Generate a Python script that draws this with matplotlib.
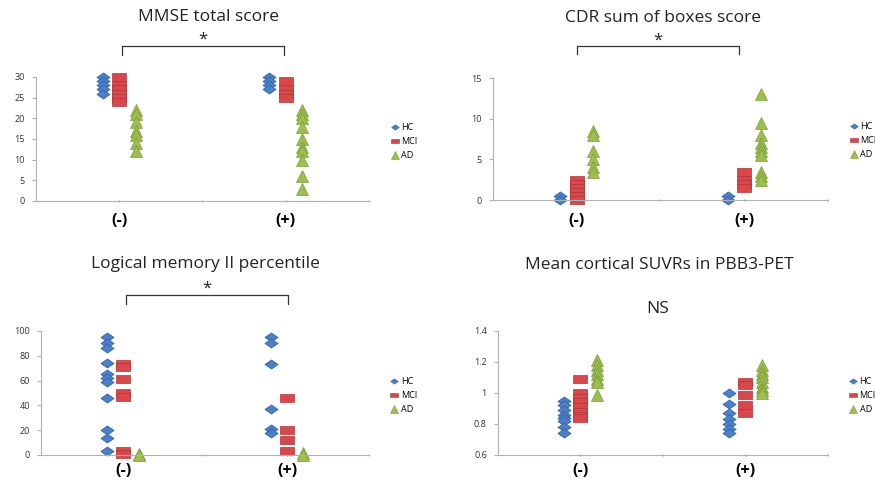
import matplotlib
matplotlib.use("Agg")
import matplotlib.pyplot as plt
from matplotlib.lines import Line2D
import matplotlib.transforms as mtransforms


plt.rcParams["font.family"] = ["Open Sans", "DejaVu Sans"]

GROUPS = ["HC", "MCI", "AD"]
CATEGORIES = ["(-)", "(+)"]

# MMSE total score
mmse_neg_hc = [30, 29, 28, 27, 26]
mmse_neg_mci = [30, 28, 27, 26, 25, 24]
mmse_neg_ad = [22, 21, 19, 17, 16, 14, 12]
mmse_pos_hc = [30, 29, 28, 27]
mmse_pos_mci = [29, 27, 26, 25]
mmse_pos_ad = [22, 21, 20, 18, 15, 13, 12, 10, 6, 3]

# CDR sum of boxes
cdr_neg_hc = [0.5, 0]
cdr_neg_mci = [2.5, 2, 1.5, 1, 0.5, 0]
cdr_neg_ad = [8.5, 8, 6, 5, 4, 3.5]
cdr_pos_hc = [0.5, 0]
cdr_pos_mci = [3.5, 2.5, 2, 1.5]
cdr_pos_ad = [13, 9.5, 8, 7, 6.5, 6, 5.5, 3.5, 3, 2.5]

# Logical memory II percentile
lm_neg_hc = [95, 90, 86, 74, 65, 62, 59, 46, 20, 14, 3]
lm_neg_mci = [73, 71, 61, 50, 47, 3, 1]
lm_neg_ad = [1, 0]
lm_pos_hc = [95, 90, 73, 37, 21, 18]
lm_pos_mci = [46, 20, 12, 3]
lm_pos_ad = [2, 0]

# Mean cortical SUVR
suvr_neg_hc = [0.95, 0.92, 0.89, 0.86, 0.84, 0.82, 0.78, 0.74]
suvr_neg_mci = [1.09, 1.0, 0.97, 0.94, 0.91, 0.88, 0.85, 0.84]
suvr_neg_ad = [1.21, 1.18, 1.15, 1.12, 1.09, 1.07, 0.99]
suvr_pos_hc = [1.0, 0.93, 0.87, 0.83, 0.8, 0.77, 0.74]
suvr_pos_mci = [1.07, 1.05, 0.99, 0.92, 0.87]
suvr_pos_ad = [1.18, 1.15, 1.12, 1.1, 1.07, 1.04, 1.02, 1.0]

COLORS = {"HC": "#4a7fc9", "MCI": "#d9474a", "AD": "#9cbf4e"}
EDGES = {"HC": "#2f5fa3", "MCI": "#b03436", "AD": "#7a9c36"}
DIAMOND = [(-1.3, 0), (0, -0.9), (1.3, 0), (0, 0.9), (-1.3, 0)]
RECT = [(-1.4, -0.85), (1.4, -0.85), (1.4, 0.85), (-1.4, 0.85), (-1.4, -0.85)]
MARKERS = {"HC": DIAMOND, "MCI": RECT, "AD": "^"}
SIZES = {"HC": 9.5, "MCI": 10, "AD": 8}
OFFSETS = {"HC": -0.2, "MCI": 0.0, "AD": 0.2}


def draw_panel(ax, neg, pos, ylim, yticks, yticklabels, xpad=5):
    for ci, vals in zip([1, 3], [neg, pos]):
        for g, v in zip(GROUPS, vals):
            ax.plot([ci + OFFSETS[g]] * len(v), v, linestyle="none",
                    marker=MARKERS[g], markersize=SIZES[g],
                    markerfacecolor=COLORS[g], markeredgecolor=EDGES[g],
                    markeredgewidth=0.5, clip_on=False, label=g)
    ax.set_xlim(0, 4)
    ax.set_ylim(*ylim)
    ax.set_yticks(yticks)
    ax.set_yticklabels(yticklabels)
    ax.set_xticks([1, 3])
    ax.set_xticklabels(CATEGORIES, fontsize=11.5, fontweight="bold")
    ax.set_xticks([2, 4], minor=True)
    for s in ["top", "right"]:
        ax.spines[s].set_visible(False)
    for s in ["left", "bottom"]:
        ax.spines[s].set_color("#b0b0b0")
        ax.spines[s].set_linewidth(0.8)
    ax.tick_params(axis="y", labelsize=6.5, length=3, color="#b0b0b0", labelcolor="#333333", pad=5)
    ax.tick_params(axis="x", which="both", length=2, color="#909090", pad=xpad, direction="inout")


def add_bracket(ax, x0, x1, ytop, ybot, label, label_y, fontsize=12):
    trans = mtransforms.blended_transform_factory(ax.transData, ax.transAxes)
    ax.plot([x0, x0, x1, x1], [ybot, ytop, ytop, ybot], color="#333333", linewidth=0.9,
            transform=trans, clip_on=False)
    ax.text((x0 + x1) / 2, label_y, label, transform=trans, ha="center", va="center",
            fontsize=fontsize, color="#222222")


def add_legend(ax, x, y):
    handles = [Line2D([], [], linestyle="none", marker=MARKERS[g], markersize=5.5,
                      markerfacecolor=COLORS[g], markeredgecolor=EDGES[g], markeredgewidth=0.4)
               for g in GROUPS]
    ax.legend(handles, GROUPS, loc="upper left", bbox_to_anchor=(x, y), frameon=False,
              fontsize=6.5, handlelength=0.8, handletextpad=0.3, labelspacing=0.55,
              borderaxespad=0)


fig = plt.figure(figsize=(8.75, 4.83), dpi=100)

ax1 = fig.add_axes([0.0411, 0.5839, 0.3806, 0.2567])
draw_panel(ax1, [mmse_neg_hc, mmse_neg_mci, mmse_neg_ad], [mmse_pos_hc, mmse_pos_mci, mmse_pos_ad],
           (0, 30), [0, 5, 10, 15, 20, 25, 30], ["0", "5", "10", "15", "20", "25", "30"], xpad=8)
add_bracket(ax1, 1.03, 2.98, 1.25, 1.177, "*", 1.30)
add_legend(ax1, 1.055, 0.66)

ax2 = fig.add_axes([0.5634, 0.5859, 0.3829, 0.2526])
draw_panel(ax2, [cdr_neg_hc, cdr_neg_mci, cdr_neg_ad], [cdr_pos_hc, cdr_pos_mci, cdr_pos_ad],
           (0, 15), [0, 5, 10, 15], ["0", "5", "10", "15"], xpad=8)
add_bracket(ax2, 1.0, 2.94, 1.262, 1.197, "*", 1.31)
add_legend(ax2, 1.055, 0.67)

ax3 = fig.add_axes([0.0469, 0.0580, 0.3749, 0.2567])
draw_panel(ax3, [lm_neg_hc, lm_neg_mci, lm_neg_ad], [lm_pos_hc, lm_pos_mci, lm_pos_ad],
           (0, 100), [0, 20, 40, 60, 80, 100], ["0", "20", "40", "60", "80", "100"])
add_bracket(ax3, 1.04, 3.01, 1.29, 1.218, "*", 1.34)
add_legend(ax3, 1.055, 0.66)

ax4 = fig.add_axes([0.5691, 0.0580, 0.3771, 0.2567])
draw_panel(ax4, [suvr_neg_hc, suvr_neg_mci, suvr_neg_ad], [suvr_pos_hc, suvr_pos_mci, suvr_pos_ad],
           (0.6, 1.4), [0.6, 0.8, 1.0, 1.2, 1.4], ["0.6", "0.8", "1", "1.2", "1.4"])
ax4.text(1.94, 1.177, "NS", transform=mtransforms.blended_transform_factory(ax4.transData, ax4.transAxes),
         ha="center", va="center", fontsize=12.5, color="#222222")
add_legend(ax4, 1.055, 0.66)

title_kw = dict(ha="center", va="center", fontsize=12.5, color="#222222")
fig.text(208 / 875, 1 - 17 / 483, "MMSE total score", **title_kw)
fig.text(663 / 875, 1 - 18 / 483, "CDR sum of boxes score", **title_kw)
fig.text(205 / 875, 1 - 264 / 483, "Logical memory II percentile", **title_kw)
fig.text(659 / 875, 1 - 265 / 483, "Mean cortical SUVRs in PBB3-PET", **title_kw)

fig.savefig("out.png", dpi=100, facecolor="white")
